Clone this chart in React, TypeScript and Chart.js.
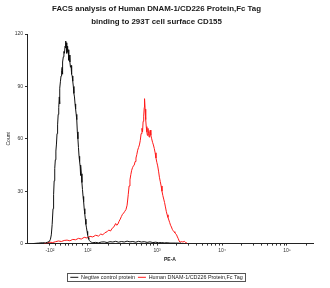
import React, { useEffect, useRef } from 'react';
import { Chart, registerables } from 'chart.js';

Chart.register(...registerables);

const TITLE_LINES = ['FACS analysis of Human DNAM-1/CD226 Protein,Fc Tag', 'binding to 293T cell surface CD155'];
const SERIES_NAMES = ['Negtive control protein', 'Human DNAM-1/CD226 Protein,Fc Tag'];
const X_TITLE = 'PE-A';
const Y_TITLE = 'Count';

// x is channel position on the biexponential PE-A display (0..1000)
const X_TICK_VALUES = [80, 213, 455, 682, 909];
const X_TICK_LABELS = ['-10²', '10²', '10³', '10⁴', '10⁵'];
const Y_TICK_VALUES = [0, 30, 60, 90, 120];

const negX = [20, 40, 55, 65, 72, 78, 82, 85, 88, 91, 93, 95, 97, 99, 101, 103, 105, 107, 109, 111, 113, 114, 115, 117, 119, 121, 123, 124, 125, 127, 129, 131, 133, 135, 136, 137, 139, 140, 142, 144, 146, 148, 150, 152, 154, 156, 158, 160, 162, 164, 166, 168, 170, 172, 174, 176, 178, 180, 182, 184, 186, 187, 188, 190, 192, 194, 196, 198, 200, 202, 204, 206, 208, 210, 212, 214, 216, 218, 221, 225, 230, 240, 250, 260, 270, 280, 290, 300, 310, 320, 330, 340, 350, 360, 370, 380, 390, 400, 410, 420, 430, 440, 450, 460, 470, 480, 490, 500, 520, 540];
const negY = [0, 0.3, 0.5, 0.4, 0.8, 1.2, 2.5, 5, 11, 20, 28, 36, 43, 48, 53, 57, 63, 68, 74, 78, 84, 80, 89, 93, 96, 99, 101, 97, 104, 107, 110, 109, 113, 116, 112, 115, 109, 113, 110, 111, 105, 108, 104, 101, 102, 97, 96, 93, 90, 86, 84, 80, 77, 74, 71, 64, 60, 55, 50, 47, 44, 39, 45, 40, 35, 31, 27, 24, 20, 17, 14, 11, 9, 7, 5, 3.5, 2.5, 1.8, 1.2, 0.8, 0.5, 0.7, 0.4, 0.9, 1.0, 0.6, 1.1, 0.9, 1.3, 0.8, 1.2, 0.9, 1.4, 1.0, 1.2, 0.8, 1.3, 0.9, 1.1, 0.7, 1.0, 0.6, 0.8, 0.5, 0.6, 0.4, 0.5, 0.3, 0.3, 0.2];

const posX = [60, 70, 80, 90, 100, 110, 120, 130, 140, 150, 160, 170, 180, 190, 200, 210, 220, 230, 240, 250, 258, 265, 272, 280, 286, 292, 298, 304, 310, 314, 318, 322, 326, 330, 334, 338, 342, 346, 350, 354, 357, 360, 363, 366, 369, 372, 375, 378, 381, 384, 387, 390, 393, 396, 399, 402, 404, 406, 408, 410, 411, 413, 415, 417, 419, 421, 423, 425, 427, 429, 431, 433, 436, 439, 442, 445, 448, 451, 454, 457, 460, 463, 466, 469, 472, 475, 478, 481, 484, 487, 490, 493, 496, 499, 502, 505, 508, 511, 514, 517, 520, 523, 526, 529, 532, 535, 540, 545, 550, 555, 560];
const posY = [0, 0.3, 0.8, 0.6, 1.1, 1.5, 1.2, 1.8, 2.0, 1.6, 2.4, 2.2, 3.0, 2.6, 3.6, 3.2, 4.2, 3.8, 4.8, 4.3, 5.5, 5.0, 6.2, 6.8, 7.8, 7.2, 8.8, 9.6, 11.5, 10.5, 11.2, 12.8, 14.0, 15.5, 16.8, 17.5, 18.5, 19.5, 22, 28, 33, 36.5, 39.5, 42, 43.5, 44.5, 45, 47, 49, 51, 53.5, 55, 56.5, 59, 63, 66, 64, 70, 73, 78, 83, 77, 71, 67, 64, 62, 66, 63, 61, 64, 65, 62, 60, 58, 56.5, 54.5, 52, 49, 46.5, 44.5, 41.5, 38, 35.5, 33, 30, 27.5, 25.5, 23.5, 21, 18.5, 16.5, 15, 13.5, 12, 10.5, 9.5, 8.2, 7.4, 6.8, 6.2, 5.6, 5.0, 3.8, 2.8, 1.5, 0.8, 1.2, 0.9, 1.3, 0.6, 0.2];

const FONT = "'Liberation Sans', Arial, sans-serif";

function minorTicks(): number[] {
  const out: number[] = [];
  const decades = [[213, 455], [455, 682], [682, 909], [909, 1136]];
  for (const [a, b] of decades) {
    for (let k = 2; k <= 9; k++) {
      const v = a + (b - a) * Math.log10(k);
      if (v < 1000) out.push(v);
    }
  }
  for (const v of [100, 118, 134, 146, 158, 174, 193]) out.push(v);
  return out;
}

const legendBorder = {
  id: 'legendBorder',
  afterDraw(chart: any) {
    const lg = chart.legend;
    if (!lg || !lg.legendHitBoxes || !lg.legendHitBoxes.length) return;
    let l = Infinity, r = -Infinity, t = Infinity, b = -Infinity;
    for (const h of lg.legendHitBoxes) {
      l = Math.min(l, h.left); r = Math.max(r, h.left + h.width);
      t = Math.min(t, h.top); b = Math.max(b, h.top + h.height);
    }
    const ctx = chart.ctx;
    ctx.save();
    ctx.strokeStyle = '#555';
    ctx.lineWidth = 1;
    ctx.strokeRect(Math.round(l - 3) + 0.5, Math.round(t - 2) + 0.5, Math.round(r - l + 6), Math.round(b - t + 3));
    ctx.restore();
  },
};

export default function App() {
  const ref = useRef<HTMLCanvasElement | null>(null);
  useEffect(() => {
    if (!ref.current) return;
    const minors = minorTicks();
    const chart = new Chart(ref.current, {
      type: 'line',
      data: {
        datasets: [
          {
            label: SERIES_NAMES[0],
            data: negX.map((x, i) => ({ x, y: negY[i] })),
            borderColor: '#111111',
            backgroundColor: '#111111',
            borderWidth: 1,
            pointRadius: 0,
            pointStyle: 'line',
            tension: 0,
          },
          {
            label: SERIES_NAMES[1],
            data: posX.map((x, i) => ({ x, y: posY[i] })),
            borderColor: '#ff1a1a',
            backgroundColor: '#ff1a1a',
            borderWidth: 1,
            pointRadius: 0,
            pointStyle: 'line',
            tension: 0,
          },
        ],
      },
      options: {
        animation: false,
        responsive: true,
        maintainAspectRatio: false,
        layout: { padding: { left: 0, right: 17, top: 0, bottom: -2 } },
        plugins: {
          title: {
            display: true,
            text: TITLE_LINES,
            color: '#1a1a1a',
            font: { family: FONT, size: 7.9, weight: 'bold', lineHeight: 1.65 },
            padding: { top: 2, bottom: 6 },
          },
          legend: {
            position: 'bottom',
            labels: {
              color: '#222',
              font: { family: FONT, size: 5.4 },
              usePointStyle: true,
              pointStyle: 'line',
              pointStyleWidth: 8,
              boxHeight: 5,
              padding: 3,
            },
          },
          tooltip: { enabled: false },
        },
        scales: {
          x: {
            type: 'linear',
            min: 0,
            max: 1000,
            afterBuildTicks: (s: any) => {
              s.ticks = [...X_TICK_VALUES, ...minors].sort((a, b) => a - b).map((v) => ({ value: v }));
            },
            ticks: {
              autoSkip: false,
              maxRotation: 0,
              color: '#333',
              font: { family: FONT, size: 5 },
              padding: 2,
              callback: (v: any) => {
                const i = X_TICK_VALUES.indexOf(v);
                return i >= 0 ? X_TICK_LABELS[i] : '';
              },
            },
            grid: { drawOnChartArea: false, drawTicks: true, tickLength: 2, color: '#333' },
            border: { display: true, color: '#222', width: 1 },
            title: {
              display: true,
              text: X_TITLE,
              color: '#222',
              font: { family: FONT, size: 5, weight: 'bold' },
              padding: { top: 1, bottom: 9 },
            },
          },
          y: {
            type: 'linear',
            min: 0,
            max: 120,
            afterBuildTicks: (s: any) => {
              s.ticks = Y_TICK_VALUES.map((v) => ({ value: v }));
            },
            afterFit: (s: any) => {
              s.width = 27;
            },
            ticks: { color: '#333', font: { family: FONT, size: 5 }, padding: 2 },
            grid: { drawOnChartArea: false, drawTicks: true, tickLength: 2, color: '#333' },
            border: { display: true, color: '#222', width: 1 },
            title: {
              display: true,
              text: Y_TITLE,
              color: '#222',
              font: { family: FONT, size: 5 },
              padding: { top: 6, bottom: 0 },
            },
          },
        },
      },
      plugins: [legendBorder],
    });
    return () => chart.destroy();
  }, []);
  return (
    <div style={{ position: 'fixed', left: 0, top: 0, width: 330, height: 288, background: '#fff' }}>
      <canvas ref={ref} />
    </div>
  );
}
